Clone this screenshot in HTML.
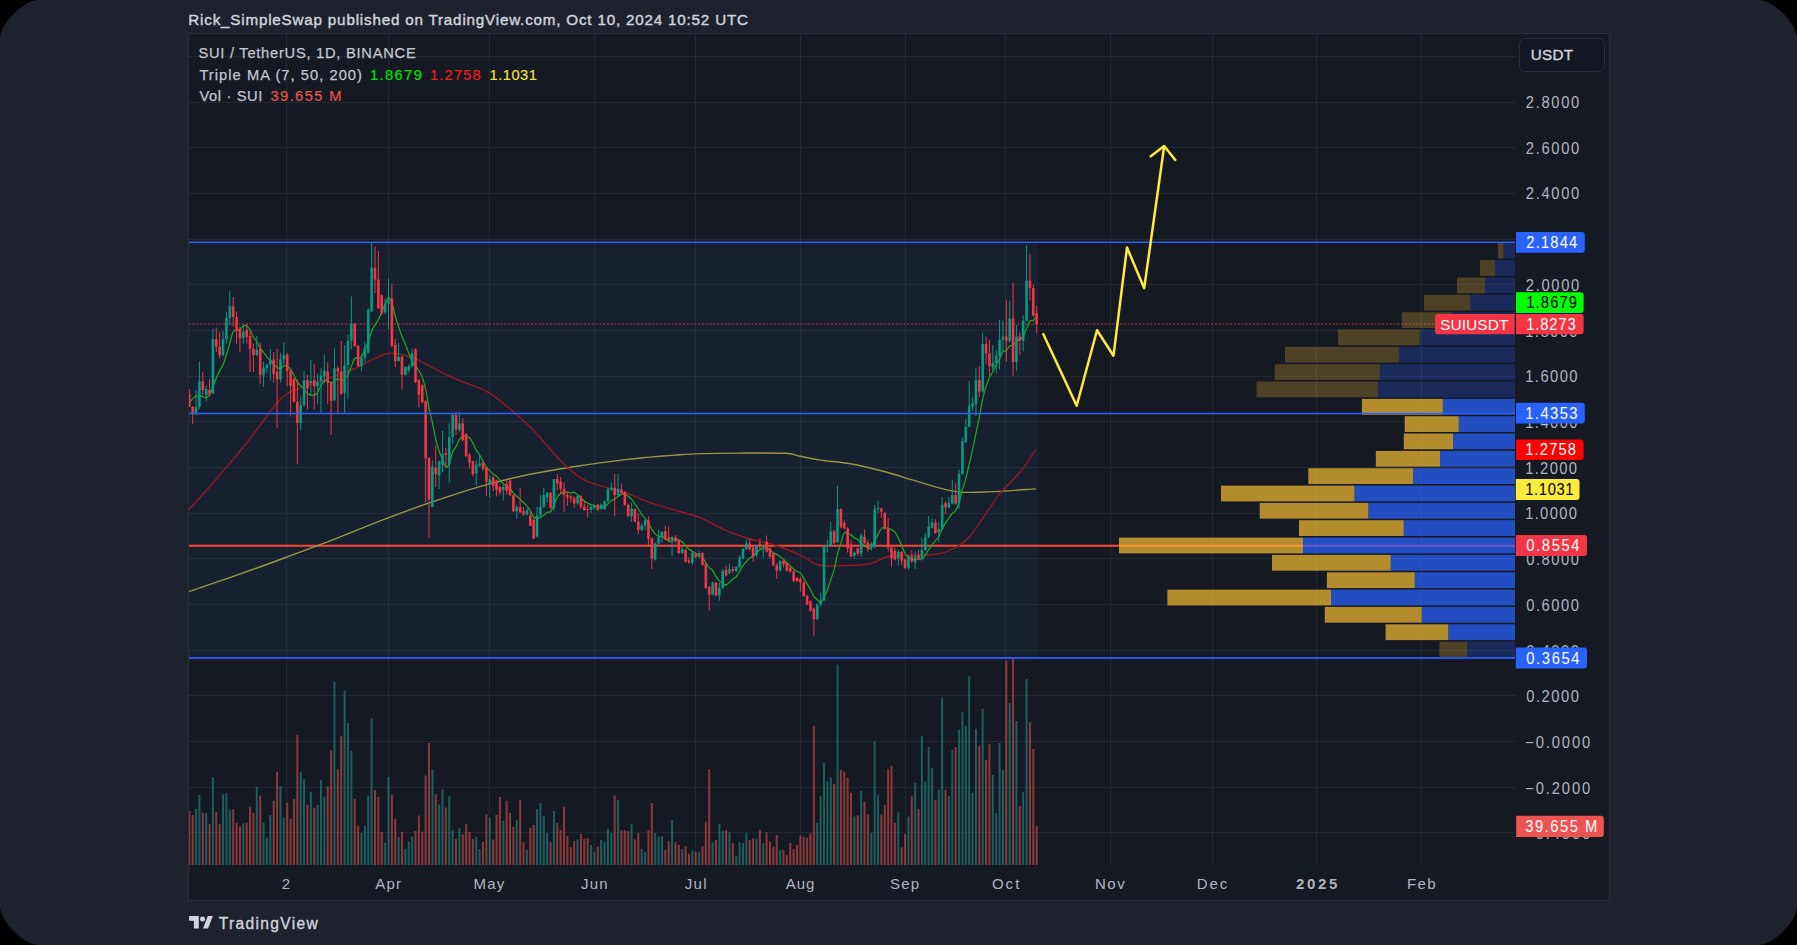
<!DOCTYPE html><html><head><meta charset="utf-8"><style>
html,body{margin:0;padding:0;background:#000;width:1797px;height:945px;overflow:hidden}
#frame{position:absolute;left:0;top:0;width:1797px;height:945px;background:#1e222d;overflow:hidden}
svg{position:absolute;left:0;top:0}
text{font-family:"Liberation Sans",sans-serif}

</style></head><body><div id="frame">
<svg width="1797" height="945" viewBox="0 0 1797 945">
<rect x="188.5" y="33.5" width="1421" height="867" fill="#151922" stroke="#2a2e39" stroke-width="1"/>
<defs><clipPath id="pane"><rect x="189" y="34" width="1326" height="831"/></clipPath></defs>
<path d="M189 56.5H1515 M189 102.5H1515 M189 147.5H1515 M189 193.5H1515 M189 239.5H1515 M189 284.5H1515 M189 330.5H1515 M189 376.5H1515 M189 421.5H1515 M189 467.5H1515 M189 513.5H1515 M189 558.5H1515 M189 604.5H1515 M189 650.5H1515 M189 695.5H1515 M189 741.5H1515 M189 787.5H1515 M189 832.5H1515 M286.5 34V865 M388.5 34V865 M489.5 34V865 M594.5 34V865 M695.5 34V865 M800.5 34V865 M905.5 34V865 M1005.5 34V865 M1110.5 34V865 M1212.5 34V865 M1316.5 34V865 M1421.5 34V865" stroke="#242833" stroke-width="1" fill="none"/>
<rect x="189" y="242.3" width="849.3" height="415.6" fill="rgba(60,140,240,0.068)"/>
<g clip-path="url(#pane)">
<path d="M189.30 811.1V865 M192.68 814.9V865 M202.80 812.7V865 M209.56 824.0V865 M216.31 812.0V865 M219.68 824.0V865 M233.19 808.9V865 M236.57 822.7V865 M239.94 826.2V865 M246.69 822.7V865 M250.07 806.7V865 M253.45 812.9V865 M260.20 795.6V865 M273.70 800.7V865 M277.08 771.8V865 M287.21 802.7V865 M290.58 818.7V865 M293.96 798.9V865 M297.34 735.1V865 M307.46 804.9V865 M314.22 807.8V865 M327.72 786.2V865 M331.10 750.0V865 M337.85 768.9V865 M341.22 736.0V865 M354.73 798.9V865 M358.10 826.2V865 M374.99 790.0V865 M378.36 796.9V865 M381.74 831.8V865 M391.87 794.2V865 M395.24 818.7V865 M401.99 831.8V865 M415.50 831.1V865 M418.87 815.6V865 M422.25 831.8V865 M425.63 775.6V865 M429.00 742.9V865 M435.75 794.2V865 M445.88 807.6V865 M456.01 838.9V865 M462.76 834.4V865 M466.14 824.0V865 M469.52 831.8V865 M472.89 838.9V865 M483.02 842.0V865 M486.40 814.4V865 M493.15 839.6V865 M496.52 814.9V865 M499.90 797.1V865 M506.65 800.7V865 M510.03 812.9V865 M513.41 826.7V865 M520.16 800.0V865 M523.53 842.2V865 M530.29 827.8V865 M533.66 824.9V865 M550.54 842.2V865 M557.29 822.9V865 M560.67 830.0V865 M564.05 806.7V865 M567.42 836.0V865 M570.80 847.1V865 M574.17 841.1V865 M580.93 834.0V865 M584.30 838.7V865 M587.68 838.2V865 M597.81 846.7V865 M614.69 795.6V865 M621.44 830.0V865 M624.82 830.0V865 M628.19 831.1V865 M634.94 839.6V865 M638.32 832.9V865 M648.45 830.0V865 M651.83 802.9V865 M665.33 850.0V865 M668.71 841.1V865 M675.46 842.2V865 M678.83 844.9V865 M685.59 846.2V865 M688.96 853.8V865 M695.71 851.8V865 M702.47 846.2V865 M705.84 821.6V865 M709.22 769.3V865 M715.97 840.0V865 M726.10 830.0V865 M732.85 842.9V865 M749.73 840.0V865 M753.11 838.4V865 M759.86 830.0V865 M766.61 832.2V865 M769.99 841.6V865 M773.36 846.7V865 M776.74 834.9V865 M783.49 850.0V865 M786.87 854.9V865 M790.25 842.9V865 M793.62 848.9V865 M797.00 845.1V865 M800.37 835.6V865 M803.75 837.1V865 M807.13 837.8V865 M810.50 833.3V865 M813.88 725.7V865 M834.13 783.9V865 M840.89 769.9V865 M844.26 771.8V865 M847.64 777.6V865 M851.01 792.7V865 M857.77 815.3V865 M864.52 802.0V865 M867.90 814.6V865 M881.40 814.6V865 M884.78 804.8V865 M888.15 769.2V865 M891.53 765.9V865 M894.90 822.8V865 M901.66 847.2V865 M905.03 833.9V865 M911.78 796.2V865 M918.54 809.0V865 M935.42 799.7V865 M945.55 789.7V865 M955.67 747.1V865 M979.31 745.9V865 M986.06 759.9V865 M989.43 744.3V865 M1006.32 660.5V865 M1013.07 658.1V865 M1019.82 806.0V865 M1029.95 722.2V865 M1033.32 749.0V865 M1036.70 826.3V865" stroke="rgba(239,83,80,0.55)" stroke-width="2" fill="none"/>
<path d="M196.05 808.9V865 M199.43 794.9V865 M206.18 812.9V865 M212.93 777.3V865 M223.06 794.4V865 M226.44 793.3V865 M229.81 809.6V865 M243.32 823.1V865 M256.82 787.1V865 M263.57 822.7V865 M266.95 837.8V865 M270.33 814.9V865 M280.45 786.0V865 M283.83 817.8V865 M300.71 771.8V865 M304.09 779.3V865 M310.84 792.0V865 M317.59 804.9V865 M320.97 780.0V865 M324.34 796.9V865 M334.47 681.8V865 M344.60 690.7V865 M347.98 722.9V865 M351.35 750.7V865 M361.48 832.9V865 M364.86 825.8V865 M368.23 795.8V865 M371.61 718.2V865 M385.11 842.7V865 M388.49 776.7V865 M398.62 836.9V865 M405.37 848.9V865 M408.75 841.6V865 M412.12 836.7V865 M432.38 769.8V865 M439.13 804.4V865 M442.51 789.3V865 M449.26 796.2V865 M452.64 830.2V865 M459.39 828.2V865 M476.27 837.1V865 M479.64 849.1V865 M489.77 818.0V865 M503.28 820.7V865 M516.78 820.0V865 M526.91 850.0V865 M537.04 808.9V865 M540.41 802.9V865 M543.79 816.0V865 M547.17 832.9V865 M553.92 811.1V865 M577.55 839.6V865 M591.06 844.9V865 M594.43 851.8V865 M601.18 840.0V865 M604.56 842.2V865 M607.94 828.9V865 M611.31 832.9V865 M618.06 800.0V865 M631.57 824.0V865 M641.70 848.9V865 M645.07 851.8V865 M655.20 832.9V865 M658.58 836.7V865 M661.95 836.2V865 M672.08 820.0V865 M682.21 848.9V865 M692.34 850.4V865 M699.09 852.2V865 M712.59 842.2V865 M719.35 824.0V865 M722.72 831.1V865 M729.48 832.2V865 M736.23 856.0V865 M739.60 842.2V865 M742.98 842.9V865 M746.36 832.9V865 M756.48 838.4V865 M763.24 843.3V865 M780.12 850.0V865 M817.25 822.8V865 M820.63 796.0V865 M824.01 762.2V865 M827.38 781.5V865 M830.76 777.6V865 M837.51 664.4V865 M854.39 816.5V865 M861.14 790.9V865 M871.27 832.8V865 M874.65 741.5V865 M878.02 794.8V865 M898.28 812.3V865 M908.41 816.5V865 M915.16 782.7V865 M921.91 735.7V865 M925.29 781.5V865 M928.66 747.1V865 M932.04 768.0V865 M938.79 789.7V865 M942.17 698.2V865 M948.92 796.0V865 M952.30 749.7V865 M959.05 729.9V865 M962.43 712.2V865 M965.80 725.7V865 M969.18 676.3V865 M972.55 792.7V865 M975.93 728.7V865 M982.68 708.7V865 M992.81 775.0V865 M996.19 813.0V865 M999.56 743.1V865 M1002.94 769.9V865 M1009.69 703.1V865 M1016.44 721.0V865 M1023.20 792.0V865 M1026.57 679.1V865" stroke="rgba(38,166,154,0.5)" stroke-width="2" fill="none"/>
<path d="M189 545.8H1515" stroke="#ff4538" stroke-width="2.1" fill="none"/>
<path d="M189 324H1515" stroke="#9a2a37" stroke-width="1.7" stroke-dasharray="1.8 2" fill="none"/>
<path d="M188.7 591.6 C196.2 589.0 218.3 581.7 234.0 576.2 C249.7 570.7 266.7 564.5 283.0 558.5 C299.3 552.5 315.6 546.5 331.9 540.2 C348.2 533.9 364.6 526.9 380.9 520.6 C397.2 514.4 413.6 508.3 429.9 502.7 C446.2 497.1 462.5 491.4 478.8 486.8 C495.1 482.2 511.5 478.2 527.8 474.8 C544.1 471.4 560.6 468.7 576.8 466.2 C593.0 463.7 612.8 461.1 625.0 459.6 C637.2 458.1 641.6 457.9 650.0 457.1 C658.4 456.4 666.7 455.7 675.1 455.1 C683.5 454.5 689.8 453.9 700.2 453.6 C710.6 453.3 723.5 453.2 737.7 453.1 C751.9 453.1 774.8 452.8 785.3 453.3 C795.8 453.8 794.5 455.2 800.4 456.3 C806.2 457.4 812.1 458.9 820.4 460.1 C828.7 461.4 840.0 461.9 850.4 463.8 C860.8 465.7 872.6 468.6 883.0 471.3 C893.4 474.0 903.8 477.4 913.0 480.1 C922.2 482.8 930.2 485.6 938.1 487.6 C946.0 489.6 952.2 491.4 960.6 492.1 C969.0 492.8 975.7 492.4 988.2 491.9 C1000.7 491.4 1027.9 489.4 1035.8 488.9" stroke="#9d9444" stroke-width="1.4" fill="none"/>
<path d="M188.8 509.5 C193.5 504.4 206.8 490.2 216.7 478.7 C226.6 467.2 237.9 453.8 248.5 440.6 C259.1 427.4 271.7 408.1 280.2 399.4 C288.7 390.7 291.4 391.8 299.3 388.3 C307.2 384.9 318.9 381.9 327.9 378.7 C336.9 375.5 345.4 372.6 353.3 369.2 C361.2 365.8 369.2 360.8 375.5 358.1 C381.8 355.5 384.9 353.3 391.3 353.3 C397.7 353.3 406.7 355.7 413.6 358.1 C420.5 360.5 425.7 364.2 432.6 367.6 C439.5 371.0 445.8 374.7 454.8 378.7 C463.8 382.7 477.1 386.1 486.6 391.4 C496.1 396.7 504.1 403.9 512.0 410.5 C519.9 417.1 526.3 422.9 534.2 431.1 C542.1 439.3 551.7 451.8 559.6 459.7 C567.5 467.6 575.1 474.4 581.8 478.7 C588.5 483.0 592.8 483.3 600.0 485.6 C607.2 487.9 616.7 489.8 625.0 492.6 C633.3 495.4 641.6 499.7 650.0 502.6 C658.4 505.5 666.7 507.7 675.1 510.2 C683.5 512.7 691.9 514.4 700.2 517.7 C708.6 521.0 716.9 526.7 725.2 530.2 C733.6 533.8 741.9 536.5 750.3 539.0 C758.6 541.5 766.9 542.5 775.3 545.2 C783.6 547.9 793.3 551.9 800.4 555.2 C807.5 558.5 811.6 563.0 817.9 564.8 C824.1 566.6 829.3 565.9 837.9 565.8 C846.5 565.7 860.9 565.5 869.2 564.0 C877.6 562.5 880.7 558.0 888.0 556.5 C895.3 555.0 904.6 555.6 913.0 555.2 C921.4 554.8 931.0 555.2 938.1 554.0 C945.2 552.8 950.2 550.8 955.6 547.7 C961.0 544.6 965.6 540.8 970.6 535.2 C975.6 529.6 980.7 521.0 985.7 513.9 C990.7 506.8 994.9 499.7 1000.7 492.6 C1006.5 485.5 1014.9 478.5 1020.7 471.3 C1026.5 464.1 1033.3 453.2 1035.8 449.6" stroke="#921b20" stroke-width="1.45" fill="none"/>
<path d="M189.3 402.8 C189.9 402.1 191.6 399.8 192.7 398.6 C193.8 397.5 194.9 396.6 196.1 396.2 C197.2 395.7 198.3 395.7 199.4 395.7 C200.6 395.8 201.7 396.3 202.8 396.6 C203.9 396.9 205.1 397.8 206.2 397.5 C207.3 397.2 208.4 396.8 209.6 394.9 C210.7 393.1 211.8 389.4 212.9 386.6 C214.1 383.9 215.2 380.9 216.3 378.3 C217.4 375.6 218.6 373.1 219.7 370.9 C220.8 368.6 221.9 367.5 223.1 364.8 C224.2 362.1 225.3 358.2 226.4 354.5 C227.6 350.8 228.7 346.5 229.8 342.7 C230.9 338.9 232.1 333.7 233.2 331.7 C234.3 329.7 235.4 330.9 236.6 330.5 C237.7 330.1 238.8 330.0 239.9 329.3 C241.1 328.5 242.2 326.6 243.3 326.0 C244.4 325.4 245.6 325.0 246.7 325.7 C247.8 326.3 248.9 328.1 250.1 330.0 C251.2 331.9 252.3 335.1 253.4 337.0 C254.6 338.9 255.7 339.8 256.8 341.7 C257.9 343.5 259.1 346.3 260.2 348.0 C261.3 349.8 262.4 350.8 263.6 352.3 C264.7 353.7 265.8 355.6 267.0 356.9 C268.1 358.3 269.2 359.1 270.3 360.3 C271.5 361.4 272.6 362.7 273.7 363.9 C274.8 365.1 276.0 366.6 277.1 367.4 C278.2 368.2 279.3 369.0 280.5 368.7 C281.6 368.5 282.7 366.3 283.8 365.9 C285.0 365.5 286.1 365.7 287.2 366.3 C288.3 366.9 289.5 367.9 290.6 369.3 C291.7 370.8 292.8 373.1 294.0 375.2 C295.1 377.4 296.2 380.4 297.3 382.2 C298.5 384.0 299.6 384.7 300.7 385.8 C301.8 386.9 303.0 387.5 304.1 388.8 C305.2 390.1 306.3 392.6 307.5 393.6 C308.6 394.6 309.7 394.8 310.8 395.0 C312.0 395.3 313.1 395.6 314.2 395.1 C315.3 394.7 316.5 393.9 317.6 392.3 C318.7 390.7 319.8 387.5 321.0 385.6 C322.1 383.6 323.2 381.4 324.3 380.7 C325.5 379.9 326.6 380.7 327.7 381.0 C328.8 381.4 330.0 382.8 331.1 382.8 C332.2 382.8 333.3 381.7 334.5 381.0 C335.6 380.4 336.7 379.0 337.8 378.9 C339.0 378.8 340.1 380.6 341.2 380.6 C342.3 380.6 343.5 380.0 344.6 379.1 C345.7 378.1 346.9 377.0 348.0 374.8 C349.1 372.7 350.2 369.1 351.4 366.4 C352.5 363.6 353.6 359.9 354.7 358.5 C355.9 357.1 357.0 358.6 358.1 358.2 C359.2 357.8 360.4 357.7 361.5 356.2 C362.6 354.8 363.7 352.1 364.9 349.7 C366.0 347.3 367.1 344.9 368.2 341.9 C369.4 338.8 370.5 334.2 371.6 331.4 C372.7 328.7 373.9 327.1 375.0 325.1 C376.1 323.1 377.2 321.8 378.4 319.7 C379.5 317.5 380.6 314.6 381.7 312.1 C382.9 309.6 384.0 306.8 385.1 304.4 C386.2 301.9 387.4 297.7 388.5 297.4 C389.6 297.1 390.7 299.5 391.9 302.6 C393.0 305.6 394.1 311.8 395.2 315.9 C396.4 319.9 397.5 323.5 398.6 326.9 C399.7 330.3 400.9 333.6 402.0 336.4 C403.1 339.3 404.2 341.4 405.4 344.1 C406.5 346.9 407.6 350.3 408.7 353.1 C409.9 355.8 411.0 358.6 412.1 360.8 C413.2 362.9 414.4 364.3 415.5 365.9 C416.6 367.6 417.7 368.9 418.9 370.8 C420.0 372.6 421.1 374.2 422.3 377.3 C423.4 380.3 424.5 384.1 425.6 389.2 C426.8 394.3 427.9 402.6 429.0 408.1 C430.1 413.6 431.3 417.2 432.4 422.5 C433.5 427.7 434.6 434.9 435.8 439.7 C436.9 444.5 438.0 447.7 439.1 451.0 C440.3 454.3 441.4 456.8 442.5 459.5 C443.6 462.2 444.8 466.3 445.9 467.1 C447.0 467.8 448.1 466.6 449.3 464.1 C450.4 461.5 451.5 454.9 452.6 452.0 C453.8 449.1 454.9 448.8 456.0 446.7 C457.1 444.6 458.3 441.1 459.4 439.4 C460.5 437.7 461.6 436.8 462.8 436.4 C463.9 435.9 465.0 436.5 466.1 436.7 C467.3 436.9 468.4 436.7 469.5 437.7 C470.6 438.8 471.8 441.0 472.9 443.0 C474.0 445.1 475.1 448.2 476.3 450.1 C477.4 452.1 478.5 453.1 479.6 455.0 C480.8 456.9 481.9 459.4 483.0 461.5 C484.1 463.5 485.3 465.8 486.4 467.4 C487.5 468.9 488.6 469.6 489.8 470.7 C490.9 471.8 492.0 473.1 493.1 474.0 C494.3 475.0 495.4 475.3 496.5 476.3 C497.7 477.3 498.8 479.0 499.9 480.2 C501.0 481.4 502.2 482.5 503.3 483.6 C504.4 484.6 505.5 485.9 506.7 486.7 C507.8 487.6 508.9 487.6 510.0 488.7 C511.2 489.8 512.3 492.0 513.4 493.2 C514.5 494.5 515.7 495.2 516.8 496.3 C517.9 497.3 519.0 498.4 520.2 499.4 C521.3 500.5 522.4 501.5 523.5 502.6 C524.7 503.7 525.8 504.5 526.9 505.9 C528.0 507.3 529.2 509.1 530.3 510.9 C531.4 512.8 532.5 516.0 533.7 517.1 C534.8 518.2 535.9 517.6 537.0 517.7 C538.2 517.8 539.3 518.1 540.4 517.7 C541.5 517.2 542.7 516.1 543.8 515.2 C544.9 514.3 546.0 512.7 547.2 512.2 C548.3 511.6 549.4 513.0 550.5 511.8 C551.7 510.7 552.8 507.6 553.9 505.1 C555.0 502.7 556.2 499.2 557.3 497.2 C558.4 495.3 559.5 494.4 560.7 493.5 C561.8 492.6 562.9 492.0 564.0 491.8 C565.2 491.6 566.3 491.9 567.4 492.1 C568.5 492.3 569.7 492.8 570.8 492.9 C571.9 492.9 573.0 492.0 574.2 492.3 C575.3 492.6 576.4 493.7 577.6 494.7 C578.7 495.6 579.8 496.9 580.9 498.0 C582.1 499.1 583.2 500.2 584.3 501.0 C585.4 501.9 586.6 502.6 587.7 503.1 C588.8 503.7 589.9 504.1 591.1 504.5 C592.2 504.9 593.3 505.2 594.4 505.6 C595.6 505.9 596.7 506.1 597.8 506.5 C598.9 506.8 600.1 507.6 601.2 507.7 C602.3 507.8 603.4 507.6 604.6 506.9 C605.7 506.3 606.8 504.9 607.9 503.9 C609.1 502.9 610.2 501.5 611.3 500.7 C612.4 499.9 613.6 499.7 614.7 499.1 C615.8 498.4 616.9 497.5 618.1 496.6 C619.2 495.8 620.3 494.6 621.4 494.2 C622.6 493.8 623.7 493.9 624.8 494.2 C625.9 494.6 627.1 495.5 628.2 496.3 C629.3 497.2 630.4 497.9 631.6 499.2 C632.7 500.5 633.8 502.4 634.9 504.1 C636.1 505.7 637.2 507.3 638.3 509.0 C639.4 510.8 640.6 512.8 641.7 514.3 C642.8 515.9 643.9 516.8 645.1 518.3 C646.2 519.7 647.3 521.3 648.4 523.1 C649.6 524.9 650.7 527.3 651.8 529.1 C653.0 530.9 654.1 532.9 655.2 534.1 C656.3 535.3 657.5 535.9 658.6 536.3 C659.7 536.7 660.8 536.2 662.0 536.6 C663.1 537.0 664.2 537.7 665.3 538.5 C666.5 539.3 667.6 540.9 668.7 541.4 C669.8 541.8 671.0 541.6 672.1 541.2 C673.2 540.7 674.3 538.9 675.5 538.8 C676.6 538.6 677.7 539.6 678.8 540.1 C680.0 540.6 681.1 540.8 682.2 541.8 C683.3 542.8 684.5 544.8 685.6 546.0 C686.7 547.3 687.8 548.5 689.0 549.3 C690.1 550.2 691.2 550.4 692.3 551.2 C693.5 551.9 694.6 553.3 695.7 554.0 C696.8 554.8 698.0 555.1 699.1 555.7 C700.2 556.2 701.3 556.1 702.5 557.4 C703.6 558.6 704.7 561.2 705.8 562.9 C707.0 564.7 708.1 566.4 709.2 567.6 C710.3 568.9 711.5 569.0 712.6 570.5 C713.7 572.0 714.8 574.8 716.0 576.6 C717.1 578.3 718.2 579.8 719.3 580.9 C720.5 582.1 721.6 582.8 722.7 583.5 C723.8 584.2 725.0 585.2 726.1 585.0 C727.2 584.8 728.3 583.3 729.5 582.3 C730.6 581.3 731.7 579.9 732.9 579.0 C734.0 578.0 735.1 578.0 736.2 576.7 C737.4 575.4 738.5 573.1 739.6 571.3 C740.7 569.4 741.9 567.3 743.0 565.7 C744.1 564.1 745.2 563.0 746.4 561.7 C747.5 560.5 748.6 558.9 749.7 558.0 C750.9 557.0 752.0 557.1 753.1 556.1 C754.2 555.2 755.4 553.6 756.5 552.5 C757.6 551.4 758.7 550.4 759.9 549.6 C761.0 548.9 762.1 548.2 763.2 548.0 C764.4 547.8 765.5 548.0 766.6 548.4 C767.7 548.7 768.9 549.5 770.0 550.2 C771.1 550.9 772.2 551.8 773.4 552.6 C774.5 553.3 775.6 553.9 776.7 554.6 C777.9 555.3 779.0 556.0 780.1 556.8 C781.2 557.6 782.4 558.3 783.5 559.3 C784.6 560.3 785.7 561.7 786.9 562.8 C788.0 563.9 789.1 564.6 790.2 565.7 C791.4 566.7 792.5 568.2 793.6 569.2 C794.7 570.1 795.9 570.8 797.0 571.4 C798.1 572.1 799.2 572.0 800.4 573.1 C801.5 574.2 802.6 576.3 803.7 578.1 C804.9 579.9 806.0 581.9 807.1 583.8 C808.3 585.7 809.4 587.5 810.5 589.6 C811.6 591.7 812.8 594.7 813.9 596.4 C815.0 598.1 816.1 598.7 817.3 599.7 C818.4 600.7 819.5 602.8 820.6 602.4 C821.8 602.0 822.9 599.4 824.0 597.3 C825.1 595.2 826.3 593.0 827.4 590.0 C828.5 587.1 829.6 583.0 830.8 579.6 C831.9 576.2 833.0 574.2 834.1 569.9 C835.3 565.7 836.4 558.7 837.5 554.2 C838.6 549.7 839.8 546.7 840.9 543.2 C842.0 539.6 843.1 534.6 844.3 532.9 C845.4 531.2 846.5 532.9 847.6 533.2 C848.8 533.5 849.9 534.1 851.0 534.9 C852.1 535.6 853.3 537.1 854.4 537.9 C855.5 538.6 856.6 538.5 857.8 539.4 C858.9 540.3 860.0 542.2 861.1 543.2 C862.3 544.2 863.4 544.6 864.5 545.4 C865.6 546.3 866.8 547.9 867.9 548.3 C869.0 548.7 870.1 548.9 871.3 547.7 C872.4 546.5 873.5 543.1 874.6 540.9 C875.8 538.7 876.9 536.6 878.0 534.6 C879.1 532.5 880.3 529.7 881.4 528.6 C882.5 527.4 883.7 527.6 884.8 527.6 C885.9 527.5 887.0 527.9 888.2 528.3 C889.3 528.6 890.4 529.1 891.5 529.7 C892.7 530.3 893.8 530.5 894.9 531.9 C896.0 533.3 897.2 535.8 898.3 538.0 C899.4 540.3 900.5 542.9 901.7 545.5 C902.8 548.1 903.9 551.5 905.0 553.5 C906.2 555.5 907.3 556.5 908.4 557.5 C909.5 558.4 910.7 559.1 911.8 559.4 C912.9 559.7 914.0 559.2 915.2 559.1 C916.3 559.1 917.4 559.2 918.5 559.1 C919.7 559.1 920.8 559.4 921.9 558.8 C923.0 558.2 924.2 557.0 925.3 555.5 C926.4 554.0 927.5 551.4 928.7 549.6 C929.8 547.8 930.9 546.2 932.0 544.8 C933.2 543.3 934.3 542.0 935.4 540.7 C936.5 539.3 937.7 538.7 938.8 536.7 C939.9 534.8 941.0 531.2 942.2 528.9 C943.3 526.6 944.4 524.6 945.5 522.8 C946.7 521.0 947.8 519.6 948.9 518.0 C950.0 516.4 951.2 514.7 952.3 513.5 C953.4 512.3 954.5 512.6 955.7 510.7 C956.8 508.9 957.9 505.8 959.0 502.3 C960.2 498.8 961.3 493.7 962.4 489.7 C963.6 485.8 964.7 483.0 965.8 478.7 C966.9 474.4 968.1 468.9 969.2 464.1 C970.3 459.3 971.4 454.9 972.6 449.8 C973.7 444.7 974.8 438.8 975.9 433.4 C977.1 428.0 978.2 423.2 979.3 417.4 C980.4 411.7 981.6 404.1 982.7 398.9 C983.8 393.7 984.9 389.9 986.1 386.4 C987.2 382.9 988.3 380.2 989.4 377.7 C990.6 375.2 991.7 373.8 992.8 371.7 C993.9 369.5 995.1 366.9 996.2 364.9 C997.3 362.8 998.4 361.4 999.6 359.1 C1000.7 356.8 1001.8 352.6 1002.9 351.3 C1004.1 349.9 1005.2 351.7 1006.3 350.8 C1007.4 349.9 1008.6 346.7 1009.7 345.8 C1010.8 344.9 1011.9 345.9 1013.1 345.2 C1014.2 344.5 1015.3 342.4 1016.4 341.4 C1017.6 340.4 1018.7 340.1 1019.8 339.3 C1020.9 338.5 1022.1 338.4 1023.2 336.6 C1024.3 334.8 1025.4 331.2 1026.6 328.6 C1027.7 326.0 1028.8 322.4 1029.9 321.0 C1031.1 319.7 1032.2 321.5 1033.3 320.6 C1034.4 319.6 1036.1 316.0 1036.7 315.1" stroke="#22a322" stroke-width="1.3" fill="none"/>
<path d="M189.30 389.0V407.0 M192.68 405.9V423.9 M202.80 372.1V395.3 M209.56 379.5V396.4 M216.31 327.6V352.0 M219.68 331.9V358.3 M233.19 296.9V326.6 M236.57 311.7V343.5 M239.94 326.6V352.0 M246.69 323.4V343.5 M250.07 330.8V372.1 M253.45 343.5V372.1 M260.20 342.4V383.7 M273.70 352.0V382.6 M277.08 348.8V428.1 M287.21 353.0V385.8 M290.58 368.9V416.5 M293.96 378.4V402.8 M297.34 379.5V464.1 M307.46 374.7V409.6 M314.22 364.1V409.6 M327.72 362.0V404.3 M331.10 381.0V435.0 M337.85 366.2V412.8 M341.22 340.8V394.8 M354.73 322.8V347.2 M358.10 345.1V367.3 M374.99 246.6V293.2 M378.36 250.9V309.1 M381.74 294.3V315.4 M391.87 283.7V347.2 M395.24 338.7V367.3 M401.99 355.6V389.5 M415.50 348.2V383.1 M418.87 378.9V407.5 M422.25 384.2V403.3 M425.63 400.1V502.8 M429.00 457.2V537.7 M435.75 445.6V486.9 M445.88 447.7V466.8 M456.01 411.7V435.0 M462.76 418.1V441.4 M466.14 432.9V457.2 M469.52 453.0V468.9 M472.89 460.4V476.3 M483.02 460.4V471.0 M486.40 466.8V496.4 M493.15 476.3V491.1 M496.52 479.5V496.4 M499.90 485.8V495.3 M506.65 478.4V494.3 M510.03 480.5V496.4 M513.41 494.3V512.3 M520.16 487.9V513.3 M523.53 507.0V515.4 M530.29 511.2V526.0 M533.66 518.6V538.7 M550.54 492.0V508.9 M557.29 474.0V489.8 M560.67 477.1V494.1 M564.05 482.4V512.1 M567.42 492.0V505.7 M570.80 495.1V502.5 M574.17 496.2V507.8 M580.93 495.1V508.9 M584.30 501.5V511.0 M587.68 504.7V517.4 M597.81 503.6V511.0 M614.69 474.0V516.3 M621.44 483.5V495.1 M624.82 490.9V505.7 M628.19 503.6V517.4 M634.94 508.9V522.6 M638.32 513.1V534.3 M648.45 516.3V544.9 M651.83 537.2V569.0 M665.33 525.6V540.4 M668.71 526.7V541.5 M675.46 535.1V542.5 M678.83 539.4V554.2 M685.59 548.9V562.6 M688.96 557.4V563.7 M695.71 552.1V558.4 M702.47 552.1V565.8 M705.84 562.6V589.1 M709.22 585.9V610.3 M715.97 581.7V596.5 M726.10 565.8V576.4 M732.85 565.8V573.2 M749.73 538.3V551.0 M753.11 546.8V561.6 M759.86 538.3V548.9 M766.61 535.6V552.5 M769.99 547.2V558.9 M773.36 552.5V566.3 M776.74 563.1V579.0 M783.49 558.9V567.4 M786.87 562.1V571.6 M790.25 566.3V572.6 M793.62 570.5V582.2 M797.00 576.9V582.2 M800.37 576.9V591.7 M803.75 581.1V597.0 M807.13 594.9V605.4 M810.50 600.2V611.8 M813.88 607.6V636.1 M834.13 529.3V544.1 M840.89 508.1V528.2 M844.26 519.7V529.3 M847.64 527.1V552.5 M851.01 539.8V556.8 M857.77 548.3V555.7 M864.52 529.3V544.1 M867.90 539.8V551.5 M881.40 507.6V518.1 M884.78 511.8V529.8 M888.15 518.1V551.0 M891.53 546.7V566.8 M894.90 547.8V560.5 M901.66 551.0V564.7 M905.03 558.4V568.9 M911.78 549.9V562.6 M918.54 549.9V560.5 M935.42 519.2V534.0 M945.55 501.2V513.9 M955.67 483.2V504.4 M979.31 366.2V396.9 M986.06 336.6V364.1 M989.43 339.8V375.7 M1006.32 299.6V362.0 M1013.07 282.6V375.7 M1019.82 332.4V354.6 M1029.95 254.0V300.6 M1033.32 284.7V316.5 M1036.70 305.9V333.4" stroke="#f23645" stroke-width="1" fill="none"/>
<path d="M196.05 390.1V415.4 M199.43 361.5V409.1 M206.18 385.8V401.7 M212.93 328.7V394.3 M223.06 330.8V356.2 M226.44 311.7V343.5 M229.81 290.6V325.5 M243.32 324.4V343.5 M256.82 336.1V356.2 M263.57 361.5V386.9 M266.95 363.6V373.1 M270.33 348.8V380.5 M280.45 353.0V382.6 M283.83 342.4V364.7 M300.71 396.4V430.3 M304.09 371.0V407.0 M310.84 359.9V395.8 M317.59 373.6V404.3 M320.97 368.3V413.8 M324.34 354.6V383.1 M334.47 348.2V401.1 M344.60 345.1V413.8 M347.98 334.5V399.0 M351.35 296.4V349.3 M361.48 354.6V371.5 M364.86 341.9V362.0 M368.23 308.0V353.5 M371.61 242.4V312.2 M385.11 298.5V314.4 M388.49 278.4V329.2 M398.62 342.9V362.0 M405.37 366.2V375.7 M408.75 364.1V372.6 M412.12 348.2V367.3 M432.38 460.4V507.0 M439.13 460.4V489.0 M442.51 430.8V472.1 M449.26 423.4V482.6 M452.64 413.9V443.5 M459.39 411.7V431.9 M476.27 460.4V485.8 M479.64 454.1V466.8 M489.77 475.2V497.5 M503.28 484.8V500.6 M516.78 504.9V518.6 M526.91 508.0V515.4 M537.04 506.8V537.5 M540.41 495.1V517.4 M543.79 487.7V507.8 M547.17 492.0V502.5 M553.92 479.3V511.0 M577.55 495.1V504.7 M591.06 504.7V513.1 M594.43 504.7V509.9 M601.18 503.6V509.9 M604.56 500.4V509.9 M607.94 487.7V502.5 M611.31 482.4V490.9 M618.06 474.0V496.2 M631.57 502.5V521.6 M641.70 523.7V531.1 M645.07 519.5V530.1 M655.20 542.5V560.5 M658.58 529.8V544.7 M661.95 530.9V542.5 M672.08 536.2V556.3 M682.21 546.8V554.2 M692.34 552.1V564.8 M699.09 551.0V558.4 M712.59 581.7V595.4 M719.35 582.8V600.7 M722.72 569.0V589.1 M729.48 563.7V574.3 M736.23 565.8V572.2 M739.60 555.2V567.9 M742.98 547.8V559.5 M746.36 539.4V549.9 M756.48 544.7V557.4 M763.24 544.7V557.4 M780.12 559.9V571.6 M817.25 603.3V620.3 M820.63 592.8V606.5 M824.01 545.1V601.2 M827.38 539.8V552.5 M830.76 521.9V546.2 M837.51 485.9V543.0 M854.39 551.5V558.9 M861.14 533.5V556.8 M871.27 542.0V550.4 M874.65 504.9V548.3 M878.02 500.7V513.4 M898.28 549.9V565.8 M908.41 555.2V570.0 M915.16 551.0V568.9 M921.91 538.3V560.5 M925.29 533.0V551.0 M928.66 516.0V538.3 M932.04 518.1V528.7 M938.79 522.4V542.5 M942.17 497.0V529.8 M948.92 497.0V508.6 M952.30 480.1V504.4 M959.05 469.5V508.6 M962.43 437.7V474.8 M965.80 418.7V443.0 M969.18 381.0V427.6 M972.55 396.9V410.7 M975.93 368.3V416.0 M982.68 332.4V392.7 M992.81 345.1V370.4 M996.19 350.3V373.6 M999.56 319.7V369.4 M1002.94 320.7V351.4 M1009.69 300.6V342.9 M1016.44 324.9V370.4 M1023.20 315.4V351.4 M1026.57 245.6V321.8" stroke="#089981" stroke-width="1" fill="none"/>
<path d="M188.00 394.3h2.6v12.7h-2.6z M191.38 407.0h2.6v6.3h-2.6z M201.50 381.6h2.6v8.5h-2.6z M208.26 390.1h2.6v4.2h-2.6z M215.01 339.3h2.6v7.4h-2.6z M218.38 346.7h2.6v8.5h-2.6z M231.89 306.5h2.6v10.6h-2.6z M235.27 317.0h2.6v13.8h-2.6z M238.64 328.7h2.6v9.5h-2.6z M245.39 329.7h2.6v7.4h-2.6z M248.77 336.1h2.6v12.7h-2.6z M252.15 348.8h2.6v6.3h-2.6z M258.90 348.8h2.6v26.5h-2.6z M272.40 359.4h2.6v14.8h-2.6z M275.78 372.1h2.6v7.4h-2.6z M285.91 355.1h2.6v15.9h-2.6z M289.28 371.0h2.6v14.8h-2.6z M292.66 378.4h2.6v23.3h-2.6z M296.04 401.7h2.6v21.2h-2.6z M306.16 380.0h2.6v8.5h-2.6z M312.92 380.0h2.6v6.3h-2.6z M326.42 371.5h2.6v11.6h-2.6z M329.80 383.1h2.6v18.0h-2.6z M336.55 368.3h2.6v3.2h-2.6z M339.92 371.5h2.6v22.2h-2.6z M353.43 323.9h2.6v22.2h-2.6z M356.80 346.1h2.6v20.1h-2.6z M373.69 267.8h2.6v11.6h-2.6z M377.06 279.4h2.6v28.6h-2.6z M380.44 295.3h2.6v18.0h-2.6z M390.57 298.5h2.6v47.6h-2.6z M393.94 345.1h2.6v15.9h-2.6z M400.69 356.7h2.6v18.0h-2.6z M414.20 349.3h2.6v32.8h-2.6z M417.57 380.0h2.6v14.8h-2.6z M420.95 385.3h2.6v16.9h-2.6z M424.33 401.2h2.6v57.1h-2.6z M427.70 458.3h2.6v41.3h-2.6z M434.45 467.8h2.6v6.3h-2.6z M444.58 453.0h2.6v2.1h-2.6z M454.71 414.9h2.6v14.8h-2.6z M461.46 423.4h2.6v16.9h-2.6z M464.84 434.0h2.6v22.2h-2.6z M468.22 455.1h2.6v7.4h-2.6z M471.59 461.5h2.6v12.7h-2.6z M481.72 462.5h2.6v6.3h-2.6z M485.10 467.8h2.6v13.8h-2.6z M491.85 477.4h2.6v8.5h-2.6z M495.22 480.5h2.6v9.5h-2.6z M498.60 486.9h2.6v5.3h-2.6z M505.35 483.7h2.6v7.4h-2.6z M508.73 480.5h2.6v14.8h-2.6z M512.11 495.3h2.6v15.9h-2.6z M518.86 507.0h2.6v5.3h-2.6z M522.23 511.2h2.6v3.2h-2.6z M528.99 515.4h2.6v10.6h-2.6z M532.36 519.7h2.6v19.0h-2.6z M549.24 493.0h2.6v14.8h-2.6z M555.99 479.3h2.6v4.2h-2.6z M559.37 481.4h2.6v7.4h-2.6z M562.75 488.8h2.6v6.3h-2.6z M566.12 495.1h2.6v2.1h-2.6z M569.50 496.2h2.6v2.1h-2.6z M572.87 498.3h2.6v5.3h-2.6z M579.63 496.2h2.6v10.6h-2.6z M583.00 506.8h2.6v3.2h-2.6z M586.38 508.9h2.6v1.1h-2.6z M596.51 504.7h2.6v5.3h-2.6z M613.39 487.7h2.6v7.4h-2.6z M620.14 489.8h2.6v3.2h-2.6z M623.52 492.0h2.6v12.7h-2.6z M626.89 504.7h2.6v11.6h-2.6z M633.64 508.9h2.6v12.7h-2.6z M637.02 521.6h2.6v8.5h-2.6z M647.15 520.5h2.6v18.0h-2.6z M650.53 538.3h2.6v20.1h-2.6z M664.03 530.9h2.6v8.5h-2.6z M667.41 537.2h2.6v3.2h-2.6z M674.16 537.2h2.6v4.2h-2.6z M677.53 540.4h2.6v12.7h-2.6z M684.29 549.9h2.6v11.6h-2.6z M687.66 560.5h2.6v2.1h-2.6z M694.41 553.1h2.6v4.2h-2.6z M701.17 553.1h2.6v11.6h-2.6z M704.54 563.7h2.6v24.3h-2.6z M707.92 587.0h2.6v7.4h-2.6z M714.67 582.8h2.6v12.7h-2.6z M724.80 570.1h2.6v5.3h-2.6z M731.55 569.0h2.6v2.1h-2.6z M748.43 543.6h2.6v5.3h-2.6z M751.81 547.8h2.6v8.5h-2.6z M758.56 543.6h2.6v3.2h-2.6z M765.31 542.0h2.6v9.5h-2.6z M768.69 548.3h2.6v8.5h-2.6z M772.06 553.6h2.6v11.6h-2.6z M775.44 565.2h2.6v5.3h-2.6z M782.19 561.0h2.6v3.2h-2.6z M785.57 563.1h2.6v7.4h-2.6z M788.95 567.4h2.6v4.2h-2.6z M792.32 571.6h2.6v9.5h-2.6z M795.70 577.9h2.6v3.2h-2.6z M799.07 579.0h2.6v3.2h-2.6z M802.45 582.2h2.6v13.8h-2.6z M805.83 595.9h2.6v8.5h-2.6z M809.20 601.2h2.6v9.5h-2.6z M812.58 608.6h2.6v10.6h-2.6z M832.83 531.4h2.6v11.6h-2.6z M839.59 509.2h2.6v18.0h-2.6z M842.96 522.9h2.6v5.3h-2.6z M846.34 528.2h2.6v20.1h-2.6z M849.71 545.1h2.6v11.6h-2.6z M856.47 548.3h2.6v5.3h-2.6z M863.22 536.7h2.6v6.3h-2.6z M866.60 543.0h2.6v5.3h-2.6z M880.10 508.6h2.6v3.2h-2.6z M883.48 512.9h2.6v15.9h-2.6z M886.85 528.7h2.6v19.0h-2.6z M890.23 547.8h2.6v10.6h-2.6z M893.60 551.0h2.6v8.5h-2.6z M900.36 552.0h2.6v8.5h-2.6z M903.73 559.4h2.6v8.5h-2.6z M910.48 556.2h2.6v5.3h-2.6z M917.24 555.2h2.6v4.2h-2.6z M934.12 522.4h2.6v10.6h-2.6z M944.25 503.3h2.6v4.2h-2.6z M954.37 494.9h2.6v8.5h-2.6z M978.01 380.0h2.6v11.6h-2.6z M984.76 344.0h2.6v9.5h-2.6z M988.13 353.5h2.6v12.7h-2.6z M1005.02 336.6h2.6v4.2h-2.6z M1011.77 318.6h2.6v43.4h-2.6z M1018.52 336.6h2.6v4.2h-2.6z M1028.65 280.5h2.6v7.4h-2.6z M1032.02 287.9h2.6v27.5h-2.6z M1035.40 313.3h2.6v10.6h-2.6z" fill="#f23645"/>
<path d="M194.75 407.0h2.6v6.3h-2.6z M198.13 381.6h2.6v25.4h-2.6z M204.88 389.0h2.6v6.3h-2.6z M211.63 339.3h2.6v54.0h-2.6z M221.76 339.3h2.6v15.9h-2.6z M225.14 318.1h2.6v21.2h-2.6z M228.51 306.5h2.6v11.6h-2.6z M242.02 331.9h2.6v6.3h-2.6z M255.52 349.8h2.6v5.3h-2.6z M262.27 367.8h2.6v7.4h-2.6z M265.65 364.7h2.6v3.2h-2.6z M269.03 360.4h2.6v4.2h-2.6z M279.15 359.4h2.6v20.1h-2.6z M282.53 355.1h2.6v4.2h-2.6z M299.41 404.9h2.6v18.0h-2.6z M302.79 380.5h2.6v24.3h-2.6z M309.54 381.0h2.6v2.1h-2.6z M316.29 382.1h2.6v4.2h-2.6z M319.67 375.7h2.6v5.3h-2.6z M323.04 370.4h2.6v6.3h-2.6z M333.17 368.3h2.6v31.7h-2.6z M343.30 365.2h2.6v27.5h-2.6z M346.68 340.8h2.6v24.3h-2.6z M350.05 323.9h2.6v16.9h-2.6z M360.18 357.8h2.6v8.5h-2.6z M363.56 348.2h2.6v9.5h-2.6z M366.93 310.1h2.6v42.3h-2.6z M370.31 267.8h2.6v43.4h-2.6z M383.81 303.8h2.6v8.5h-2.6z M387.19 299.6h2.6v4.2h-2.6z M397.32 356.7h2.6v4.2h-2.6z M404.07 367.3h2.6v7.4h-2.6z M407.45 366.2h2.6v4.2h-2.6z M410.82 353.5h2.6v12.7h-2.6z M431.08 466.8h2.6v40.2h-2.6z M437.83 461.5h2.6v13.8h-2.6z M441.21 454.1h2.6v10.6h-2.6z M447.96 437.1h2.6v27.5h-2.6z M451.34 414.9h2.6v22.2h-2.6z M458.09 423.4h2.6v6.3h-2.6z M474.97 464.7h2.6v8.5h-2.6z M478.34 463.6h2.6v2.1h-2.6z M488.47 479.5h2.6v4.2h-2.6z M501.98 486.9h2.6v3.2h-2.6z M515.48 507.0h2.6v4.2h-2.6z M525.61 510.2h2.6v4.2h-2.6z M535.74 515.2h2.6v21.2h-2.6z M539.11 506.8h2.6v8.5h-2.6z M542.49 495.1h2.6v11.6h-2.6z M545.87 493.0h2.6v4.2h-2.6z M552.62 479.3h2.6v28.6h-2.6z M576.25 496.2h2.6v7.4h-2.6z M589.76 506.8h2.6v3.2h-2.6z M593.13 505.7h2.6v2.1h-2.6z M599.88 504.7h2.6v4.2h-2.6z M603.26 501.5h2.6v7.4h-2.6z M606.64 488.8h2.6v12.7h-2.6z M610.01 487.7h2.6v2.1h-2.6z M616.76 488.8h2.6v6.3h-2.6z M630.27 508.9h2.6v7.4h-2.6z M640.40 525.8h2.6v4.2h-2.6z M643.77 520.5h2.6v5.3h-2.6z M653.90 543.6h2.6v15.9h-2.6z M657.28 537.2h2.6v6.3h-2.6z M660.65 532.0h2.6v5.3h-2.6z M670.78 537.2h2.6v3.2h-2.6z M680.91 548.9h2.6v4.2h-2.6z M691.04 553.1h2.6v9.5h-2.6z M697.79 553.1h2.6v3.2h-2.6z M711.29 582.8h2.6v11.6h-2.6z M718.05 588.0h2.6v7.4h-2.6z M721.42 571.1h2.6v16.9h-2.6z M728.18 569.0h2.6v4.2h-2.6z M734.93 566.9h2.6v4.2h-2.6z M738.30 557.4h2.6v9.5h-2.6z M741.68 548.9h2.6v9.5h-2.6z M745.06 543.6h2.6v5.3h-2.6z M755.18 545.7h2.6v9.5h-2.6z M761.94 545.7h2.6v1.1h-2.6z M778.82 561.0h2.6v9.5h-2.6z M815.95 604.4h2.6v14.8h-2.6z M819.33 600.2h2.6v4.2h-2.6z M822.71 546.2h2.6v54.0h-2.6z M826.08 545.1h2.6v1.1h-2.6z M829.46 531.4h2.6v13.8h-2.6z M836.21 509.2h2.6v32.8h-2.6z M853.09 552.5h2.6v3.2h-2.6z M859.84 535.6h2.6v18.0h-2.6z M869.97 544.1h2.6v2.1h-2.6z M873.35 509.2h2.6v38.1h-2.6z M876.72 508.1h2.6v1.1h-2.6z M896.98 552.0h2.6v6.3h-2.6z M907.11 556.2h2.6v11.6h-2.6z M913.86 556.2h2.6v6.3h-2.6z M920.61 549.9h2.6v9.5h-2.6z M923.99 537.2h2.6v12.7h-2.6z M927.36 526.6h2.6v10.6h-2.6z M930.74 522.4h2.6v5.3h-2.6z M937.49 528.7h2.6v3.2h-2.6z M940.87 504.4h2.6v24.3h-2.6z M947.62 503.3h2.6v4.2h-2.6z M951.00 494.9h2.6v8.5h-2.6z M957.75 473.7h2.6v29.6h-2.6z M961.13 440.9h2.6v32.8h-2.6z M964.50 427.1h2.6v14.8h-2.6z M967.88 405.4h2.6v21.2h-2.6z M971.25 403.3h2.6v3.2h-2.6z M974.63 380.0h2.6v24.3h-2.6z M981.38 344.0h2.6v47.6h-2.6z M991.51 363.0h2.6v4.2h-2.6z M994.89 355.6h2.6v7.4h-2.6z M998.26 339.8h2.6v15.9h-2.6z M1001.64 336.6h2.6v3.2h-2.6z M1008.39 318.6h2.6v22.2h-2.6z M1015.14 336.6h2.6v25.4h-2.6z M1021.90 320.7h2.6v20.1h-2.6z M1025.27 280.5h2.6v40.2h-2.6z" fill="#089981"/>
</g>
<rect x="1498.0" y="242.8" width="5.4" height="15.8" fill="rgba(240,185,50,0.26)"/>
<rect x="1503.4" y="242.8" width="11.6" height="15.8" fill="rgba(41,98,255,0.26)"/>
<rect x="1480.0" y="260.1" width="15.0" height="15.8" fill="rgba(240,185,50,0.26)"/>
<rect x="1495.0" y="260.1" width="20.0" height="15.8" fill="rgba(41,98,255,0.26)"/>
<rect x="1457.0" y="277.5" width="28.0" height="15.8" fill="rgba(240,185,50,0.26)"/>
<rect x="1485.0" y="277.5" width="30.0" height="15.8" fill="rgba(41,98,255,0.26)"/>
<rect x="1424.0" y="294.8" width="46.3" height="15.8" fill="rgba(240,185,50,0.26)"/>
<rect x="1470.3" y="294.8" width="44.7" height="15.8" fill="rgba(41,98,255,0.26)"/>
<rect x="1401.8" y="312.2" width="49.9" height="15.8" fill="rgba(240,185,50,0.26)"/>
<rect x="1451.7" y="312.2" width="63.3" height="15.8" fill="rgba(41,98,255,0.26)"/>
<rect x="1337.9" y="329.5" width="81.9" height="15.8" fill="rgba(240,185,50,0.26)"/>
<rect x="1419.8" y="329.5" width="95.2" height="15.8" fill="rgba(41,98,255,0.26)"/>
<rect x="1285.0" y="346.8" width="114.0" height="15.8" fill="rgba(240,185,50,0.26)"/>
<rect x="1399.0" y="346.8" width="116.0" height="15.8" fill="rgba(41,98,255,0.26)"/>
<rect x="1274.8" y="364.2" width="105.0" height="15.8" fill="rgba(240,185,50,0.26)"/>
<rect x="1379.8" y="364.2" width="135.2" height="15.8" fill="rgba(41,98,255,0.26)"/>
<rect x="1256.5" y="381.5" width="121.3" height="15.8" fill="rgba(240,185,50,0.26)"/>
<rect x="1377.8" y="381.5" width="137.2" height="15.8" fill="rgba(41,98,255,0.26)"/>
<rect x="1361.9" y="398.9" width="81.0" height="15.8" fill="rgba(240,185,50,0.72)"/>
<rect x="1442.9" y="398.9" width="72.1" height="15.8" fill="rgba(41,98,255,0.72)"/>
<rect x="1404.7" y="416.2" width="54.1" height="15.8" fill="rgba(240,185,50,0.72)"/>
<rect x="1458.8" y="416.2" width="56.2" height="15.8" fill="rgba(41,98,255,0.72)"/>
<rect x="1403.8" y="433.5" width="49.2" height="15.8" fill="rgba(240,185,50,0.72)"/>
<rect x="1453.0" y="433.5" width="62.0" height="15.8" fill="rgba(41,98,255,0.72)"/>
<rect x="1375.8" y="450.9" width="64.2" height="15.8" fill="rgba(240,185,50,0.72)"/>
<rect x="1440.0" y="450.9" width="75.0" height="15.8" fill="rgba(41,98,255,0.72)"/>
<rect x="1308.3" y="468.2" width="104.8" height="15.8" fill="rgba(240,185,50,0.72)"/>
<rect x="1413.1" y="468.2" width="101.9" height="15.8" fill="rgba(41,98,255,0.72)"/>
<rect x="1221.0" y="485.6" width="133.6" height="15.8" fill="rgba(240,185,50,0.72)"/>
<rect x="1354.6" y="485.6" width="160.4" height="15.8" fill="rgba(41,98,255,0.72)"/>
<rect x="1259.7" y="502.9" width="108.8" height="15.8" fill="rgba(240,185,50,0.72)"/>
<rect x="1368.5" y="502.9" width="146.5" height="15.8" fill="rgba(41,98,255,0.72)"/>
<rect x="1299.0" y="520.2" width="104.8" height="15.8" fill="rgba(240,185,50,0.72)"/>
<rect x="1403.8" y="520.2" width="111.2" height="15.8" fill="rgba(41,98,255,0.72)"/>
<rect x="1119.0" y="537.6" width="184.0" height="15.8" fill="rgba(240,185,50,0.72)"/>
<rect x="1303.0" y="537.6" width="212.0" height="15.8" fill="rgba(41,98,255,0.72)"/>
<rect x="1272.0" y="554.9" width="118.8" height="15.8" fill="rgba(240,185,50,0.72)"/>
<rect x="1390.8" y="554.9" width="124.2" height="15.8" fill="rgba(41,98,255,0.72)"/>
<rect x="1326.9" y="572.3" width="87.9" height="15.8" fill="rgba(240,185,50,0.72)"/>
<rect x="1414.8" y="572.3" width="100.2" height="15.8" fill="rgba(41,98,255,0.72)"/>
<rect x="1167.4" y="589.6" width="163.6" height="15.8" fill="rgba(240,185,50,0.72)"/>
<rect x="1331.0" y="589.6" width="184.0" height="15.8" fill="rgba(41,98,255,0.72)"/>
<rect x="1324.8" y="606.9" width="97.0" height="15.8" fill="rgba(240,185,50,0.72)"/>
<rect x="1421.8" y="606.9" width="93.2" height="15.8" fill="rgba(41,98,255,0.72)"/>
<rect x="1385.6" y="624.3" width="62.8" height="15.8" fill="rgba(240,185,50,0.72)"/>
<rect x="1448.4" y="624.3" width="66.6" height="15.8" fill="rgba(41,98,255,0.72)"/>
<rect x="1439.4" y="641.6" width="27.6" height="15.8" fill="rgba(240,185,50,0.26)"/>
<rect x="1467.0" y="641.6" width="48.0" height="15.8" fill="rgba(41,98,255,0.26)"/>
<path d="M189 242.3H1515 M189 413.5H1515" stroke="#2962ff" stroke-width="1.5" fill="none"/>
<path d="M189 657.9H1515" stroke="#2756e6" stroke-width="2" fill="none"/>
<path d="M1042.9 333.3 L1076.7 405.8 L1097 330.2 L1113.5 355.7 L1127 247.6 L1144.2 288.2 L1164.2 146 M1149.8 157 L1164.2 146 L1175.9 160.7" stroke="#ffeb3b" stroke-width="2.5" fill="none" stroke-linejoin="round" stroke-linecap="butt"/>
</svg>
<svg width="1797" height="945" viewBox="0 0 1797 945">
<text x="188.3" y="24.8" font-size="15.2" letter-spacing="0.81" fill="#d1d4dc" stroke="#d1d4dc" stroke-width="0.4">Rick_SimpleSwap published on TradingView.com, Oct 10, 2024 10:52 UTC</text>
<text x="198.4" y="58.3" font-size="14.7" letter-spacing="0.742" fill="#c3c6ce" stroke="#c3c6ce" stroke-width="0.25">SUI / TetherUS, 1D, BINANCE</text>
<text x="199.4" y="79.6" font-size="14.7" letter-spacing="1.043" fill="#c3c6ce" stroke="#c3c6ce" stroke-width="0.25">Triple MA (7, 50, 200)</text>
<text x="370.0" y="79.6" font-size="14.7" letter-spacing="1.4" fill="#00e600" stroke="#00e600" stroke-width="0.15">1.8679</text>
<text x="430.0" y="79.6" font-size="14.7" letter-spacing="1.16" fill="#f21e1e" stroke="#f21e1e" stroke-width="0.15">1.2758</text>
<text x="489.5" y="79.6" font-size="14.7" letter-spacing="0.5" fill="#f5e13a" stroke="#f5e13a" stroke-width="0.15">1.1031</text>
<text x="199.4" y="101" font-size="14.7" letter-spacing="0.637" fill="#c3c6ce" stroke="#c3c6ce" stroke-width="0.25">Vol · SUI</text>
<text x="270.5" y="101" font-size="14.7" letter-spacing="1.4" fill="#ef5350" stroke="#ef5350" stroke-width="0.15">39.655 M</text>
<text transform="translate(1525.8,107.90) scale(0.91,1)" font-size="16.2" letter-spacing="1.846" fill="#b2b5be">2.8000</text>
<text transform="translate(1525.8,153.62) scale(0.91,1)" font-size="16.2" letter-spacing="1.846" fill="#b2b5be">2.6000</text>
<text transform="translate(1525.8,199.34) scale(0.91,1)" font-size="16.2" letter-spacing="1.846" fill="#b2b5be">2.4000</text>
<text transform="translate(1525.8,290.78) scale(0.91,1)" font-size="16.2" letter-spacing="1.846" fill="#b2b5be">2.0000</text>
<text transform="translate(1525.2,336.50) scale(0.91,1)" font-size="16.2" letter-spacing="1.604" fill="#b2b5be">1.8000</text>
<text transform="translate(1525.2,382.22) scale(0.91,1)" font-size="16.2" letter-spacing="1.604" fill="#b2b5be">1.6000</text>
<text transform="translate(1525.2,427.94) scale(0.91,1)" font-size="16.2" letter-spacing="1.604" fill="#b2b5be">1.4000</text>
<text transform="translate(1525.2,473.66) scale(0.91,1)" font-size="16.2" letter-spacing="1.451" fill="#b2b5be">1.2000</text>
<text transform="translate(1525.2,519.38) scale(0.91,1)" font-size="16.2" letter-spacing="1.451" fill="#b2b5be">1.0000</text>
<text transform="translate(1526.2,565.10) scale(0.91,1)" font-size="16.2" letter-spacing="1.692" fill="#b2b5be">0.8000</text>
<text transform="translate(1526.2,610.82) scale(0.91,1)" font-size="16.2" letter-spacing="1.692" fill="#b2b5be">0.6000</text>
<text transform="translate(1526.2,656.54) scale(0.91,1)" font-size="16.2" letter-spacing="1.692" fill="#b2b5be">0.4000</text>
<text transform="translate(1526.2,702.26) scale(0.91,1)" font-size="16.2" letter-spacing="1.692" fill="#b2b5be">0.2000</text>
<text transform="translate(1525.3,747.98) scale(0.91,1)" font-size="16.2" letter-spacing="2.051" fill="#b2b5be">−0.0000</text>
<text transform="translate(1525.3,793.70) scale(0.91,1)" font-size="16.2" letter-spacing="2.051" fill="#b2b5be">−0.2000</text>
<text transform="translate(1525.3,839.42) scale(0.91,1)" font-size="16.2" letter-spacing="2.051" fill="#b2b5be">−0.4000</text>
<path d="M1516 232H1581.8Q1584.8 232 1584.8 235V249.7Q1584.8 252.7 1581.8 252.7H1516Z" fill="#2962ff"/>
<text transform="translate(1526.3,248.10) scale(0.91,1)" font-size="16.2" letter-spacing="1.297" fill="#ffffff">2.1844</text>
<path d="M1516 292.3H1580.6Q1583.6 292.3 1583.6 295.3V309.90000000000003Q1583.6 312.90000000000003 1580.6 312.90000000000003H1516Z" fill="#00ff00"/>
<text transform="translate(1526.3,308.35) scale(0.91,1)" font-size="16.2" letter-spacing="1.231" fill="#000000">1.8679</text>
<path d="M1516 313.9H1580.6Q1583.6 313.9 1583.6 316.9V331.2Q1583.6 334.2 1580.6 334.2H1516Z" fill="#f23645"/>
<text transform="translate(1526.3,329.80) scale(0.91,1)" font-size="16.2" letter-spacing="0.945" fill="#ffffff">1.8273</text>
<path d="M1438 313.9H1514.6V334.2H1438Q1435 334.2 1435 331.2V316.9Q1435 313.9 1438 313.9Z" fill="#f23645"/>
<text x="1440.0" y="329.8" font-size="15.5" letter-spacing="0.08" fill="#ffffff">SUIUSDT</text>
<path d="M1516 402.8H1581.8Q1584.8 402.8 1584.8 405.8V420.40000000000003Q1584.8 423.40000000000003 1581.8 423.40000000000003H1516Z" fill="#2962ff"/>
<text transform="translate(1525.2,418.85) scale(0.91,1)" font-size="16.2" letter-spacing="1.604" fill="#ffffff">1.4353</text>
<path d="M1516 439.4H1580.6Q1583.6 439.4 1583.6 442.4V457.0Q1583.6 460.0 1580.6 460.0H1516Z" fill="#ff0000"/>
<text transform="translate(1525.2,455.45) scale(0.91,1)" font-size="16.2" letter-spacing="1.275" fill="#ffffff">1.2758</text>
<path d="M1515.8 479H1576.5Q1579.5 479 1579.5 482V497Q1579.5 500 1576.5 500H1515.8Z" fill="#ffeb3b"/>
<text transform="translate(1525.2,495.25) scale(0.91,1)" font-size="16.2" letter-spacing="0.725" fill="#000000">1.1031</text>
<path d="M1515.8 535H1584.0Q1587.0 535 1587.0 538V553Q1587.0 556 1584.0 556H1515.8Z" fill="#f23645"/>
<text transform="translate(1526.2,551.25) scale(0.91,1)" font-size="16.2" letter-spacing="1.824" fill="#ffffff">0.8554</text>
<path d="M1515.8 647.4H1584.0Q1587.0 647.4 1587.0 650.4V665.4Q1587.0 668.4 1584.0 668.4H1515.8Z" fill="#2962ff"/>
<text transform="translate(1526.2,663.65) scale(0.91,1)" font-size="16.2" letter-spacing="1.824" fill="#ffffff">0.3654</text>
<path d="M1516.2 815.8H1600.8Q1603.8 815.8 1603.8 818.8V834.0999999999999Q1603.8 837.0999999999999 1600.8 837.0999999999999H1516.2Z" fill="#ef5350"/>
<text transform="translate(1525.3,832.20) scale(0.91,1)" font-size="16.2" letter-spacing="1.664" fill="#ffffff">39.655 M</text>
<rect x="1519.5" y="38.5" width="85" height="33" rx="6" fill="#131722" stroke="#2a2e39" stroke-width="1"/>
<text x="1530.7" y="60.3" font-size="15.2" letter-spacing="0.3" fill="#d1d4dc" stroke="#d1d4dc" stroke-width="0.4">USDT</text>
<text x="281.7" y="889.2" font-size="15" letter-spacing="0.0" fill="#b2b5be">2</text>
<text x="375.3" y="889.2" font-size="15" letter-spacing="1.2" fill="#b2b5be">Apr</text>
<text x="473.5" y="889.2" font-size="15" letter-spacing="1.2" fill="#b2b5be">May</text>
<text x="581.0" y="889.2" font-size="15" letter-spacing="1.25" fill="#b2b5be">Jun</text>
<text x="684.7" y="889.2" font-size="15" letter-spacing="1.35" fill="#b2b5be">Jul</text>
<text x="785.8" y="889.2" font-size="15" letter-spacing="0.95" fill="#b2b5be">Aug</text>
<text x="889.9" y="889.2" font-size="15" letter-spacing="1.25" fill="#b2b5be">Sep</text>
<text x="991.9" y="889.2" font-size="15" letter-spacing="2.05" fill="#b2b5be">Oct</text>
<text x="1095.0" y="889.2" font-size="15" letter-spacing="1.5" fill="#b2b5be">Nov</text>
<text x="1196.7" y="889.2" font-size="15" letter-spacing="2.0" fill="#b2b5be">Dec</text>
<text x="1296.0" y="889.2" font-size="15" letter-spacing="2.667" fill="#b2b5be" font-weight="bold">2025</text>
<text x="1407.0" y="889.2" font-size="15" letter-spacing="1.4" fill="#b2b5be">Feb</text>
<path d="M189.1 916.1H198.8V928.5H193.9V920.8H189.1Z" fill="#d1d4dc"/>
<circle cx="202.5" cy="919" r="2.5" fill="#d1d4dc"/>
<path d="M207.8 916.1H212.9L208 928.5H203Z" fill="#d1d4dc"/>
<text x="218.7" y="928.5" font-size="15.6" letter-spacing="1.32" fill="#d1d4dc" stroke="#d1d4dc" stroke-width="0.35">TradingView</text>
<path d="M0 0H38.5C23.6 0 0 23.6 0 38.5Z" fill="#000"/>
<path d="M1797 0H1758.5C1773.4 0 1797 23.6 1797 38.5Z" fill="#000"/>
<path d="M0 945H38.5C23.6 945 0 921.4 0 906.5Z" fill="#000"/>
<path d="M1797 945H1758.5C1773.4 945 1797 921.4 1797 906.5Z" fill="#000"/>
</svg>
</div></body></html>
